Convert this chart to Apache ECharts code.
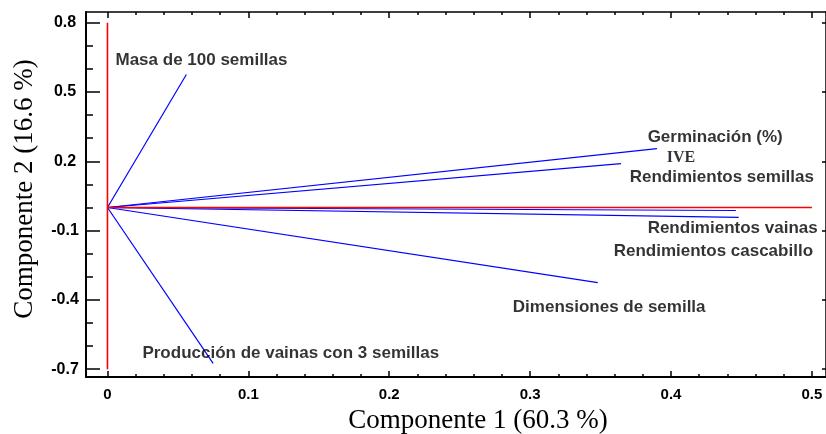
<!DOCTYPE html>
<html><head><meta charset="utf-8">
<script src="https://cdn.jsdelivr.net/npm/echarts@6/dist/echarts.min.js"></script>
<style>html,body{margin:0;padding:0;background:#fff}#c{width:826px;height:434px}</style>
</head><body><div id="c"></div><script>
const variables = ['Masa de 100 semillas','Germinación (%)','IVE','Rendimientos semillas','Rendimientos vainas','Rendimientos cascabillo','Dimensiones de semilla','Producción de vainas con 3 semillas'];
const comp1 = [0.056, 0.390, 0.3645, 0.437, 0.446, 0.448, 0.348, 0.075];
const comp2 = [0.576, 0.255, 0.190, 0.0, -0.013, -0.043, -0.325, -0.675];
const labelX = [0.0057, 0.3834, 0.3969, 0.3707, 0.3834, 0.3593, 0.2877, 0.0248];
const labelY = [0.636, 0.303, 0.216, 0.130, -0.091, -0.190, -0.433, -0.632];
const refVertical = [[0, -0.7], [0, 0.8]];
const refHorizontal = [[0, 0], [0.5, 0]];
const xTicks = [0, 0.1, 0.2, 0.3, 0.4, 0.5];
const xMinorTicks = [0.02,0.04,0.06,0.08,0.12,0.14,0.16,0.18,0.22,0.24,0.26,0.28,0.32,0.34,0.36,0.38,0.42,0.44,0.46,0.48];
const yTicks = [-0.7, -0.4, -0.1, 0.2, 0.5, 0.8];
const yMinorTicks = [-0.6,-0.5,-0.3,-0.2,0,0.1,0.3,0.4,0.6,0.7];
const xTitle = 'Componente 1 (60.3 %)';
const yTitle = 'Componente 2 (16.6 %)';

const X_MIN = -0.01524, X_MAX = 0.51, Y_MIN = -0.7338, Y_MAX = 0.8463;
const fmt = v => (v === 0 ? '0' : String(v));
const sans = 'Liberation Sans, Arial, sans-serif';
const serif = 'Liberation Serif, Times New Roman, serif';

function xAx(pos, ticks, len, showLabel, showLine, lw) {
  return {type:'value', position:pos, min:X_MIN, max:X_MAX, splitLine:{show:false},
    axisLine:{show:showLine, onZero:false, lineStyle:{color:'#000', width:lw}},
    axisTick:{show:true, inside:true, length:len, customValues:ticks, lineStyle:{color:'#000', width:1.5}},
    axisLabel:{show:showLabel, customValues:ticks, formatter:fmt, margin:10, color:'#000',
      fontFamily:sans, fontWeight:'bold', fontSize:15}};
}
function yAx(pos, ticks, len, showLabel, showLine, lw) {
  return {type:'value', position:pos, min:Y_MIN, max:Y_MAX, splitLine:{show:false},
    axisLine:{show:showLine, onZero:false, lineStyle:{color:'#000', width:lw}},
    axisTick:{show:true, inside:true, length:len, customValues:ticks, lineStyle:{color:'#000', width:1.5}},
    axisLabel:{show:showLabel, customValues:ticks, formatter:fmt, margin:21, align:'center', color:'#000',
      fontFamily:sans, fontWeight:'bold', fontSize:16}};
}

const series = [];
variables.forEach((name, i) => {
  series.push({type:'line', name, data:[[0,0],[comp1[i], comp2[i]]], showSymbol:false, silent:true,
    lineStyle:{color:'#0000ff', width:1.2}, z:2});
});
series.push({type:'line', data:refVertical, showSymbol:false, silent:true, lineStyle:{color:'#ff0000', width:1.6}, z:3});
series.push({type:'line', data:refHorizontal, showSymbol:false, silent:true, lineStyle:{color:'#ff0000', width:1.6}, z:3});
series.push({type:'scatter', symbolSize:0, z:4, silent:true,
  data: variables.map((name, i) => ({value:[labelX[i], labelY[i]], name,
    label: name === 'IVE' ? {fontFamily:serif, fontSize:16} : {}})),
  label:{show:true, position:[0,0], align:'left', verticalAlign:'middle', formatter:p => p.name,
    color:'#000', fontFamily:sans, fontWeight:'bold', fontSize:17}});

const chart = echarts.init(document.getElementById('c'), null, {renderer:'canvas'});
chart.setOption({
  animation:false,
  backgroundColor:'#fff',
  grid:{left:86, top:12, width:741, height:365, containLabel:false},
  xAxis:[
    xAx('bottom', xTicks, 6, true, true, 2),
    xAx('bottom', xMinorTicks, 3, false, false, 2),
    xAx('top', xTicks, 6, false, true, 1.5),
    xAx('top', xMinorTicks, 3, false, false, 1.5)
  ],
  yAxis:[
    yAx('left', yTicks, 14, true, true, 2),
    yAx('left', yMinorTicks, 7, false, false, 2),
    yAx('right', yTicks, 4, false, true, 1.5)
  ],
  series,
  graphic:[
    {type:'text', x:478, y:421, style:{text:xTitle, font:'27px ' + serif, fill:'#000', align:'center', verticalAlign:'middle'}},
    {type:'text', x:25, y:189, rotation:Math.PI/2, style:{text:yTitle, font:'27px ' + serif, fill:'#000', align:'center', verticalAlign:'middle'}}
  ]
});
</script></body></html>
